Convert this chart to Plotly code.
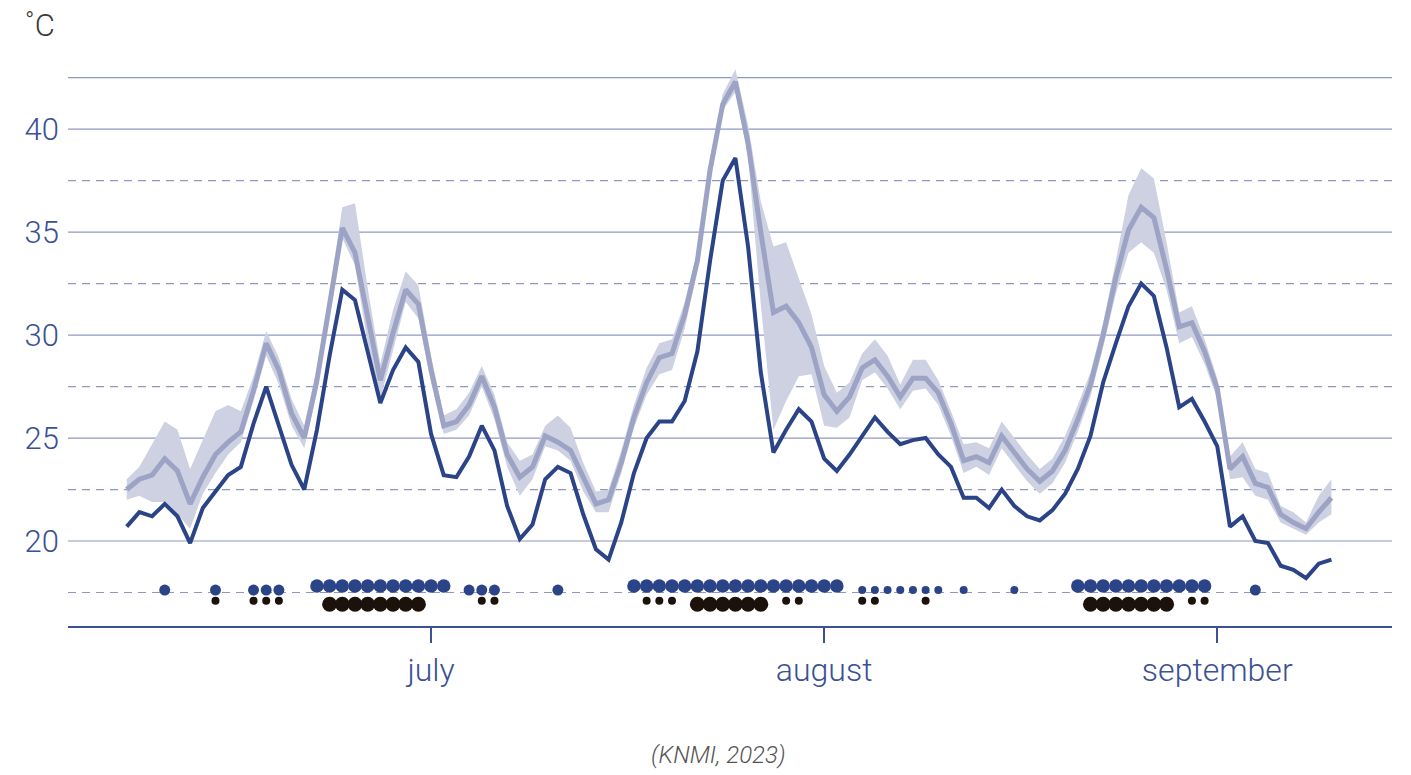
import pandas as pd
import plotly.graph_objects as go

# ---------------- data ----------------
start_date = "2023-06-07"
n_days = 96

# average (light line), band upper / lower, observed (dark line)
mean_temp = [22.5, 23.0, 23.2, 24.0, 23.4, 21.8, 23.1, 24.2, 24.8, 25.3,
             27.3, 29.6, 28.3, 26.2, 25.0, 27.8, 31.5, 35.2, 34.0, 30.8,
             27.8, 30.1, 32.2, 31.5, 28.3, 25.6, 25.8, 26.6, 28.0, 26.5,
             24.2, 23.1, 23.6, 25.1, 24.8, 24.4, 23.1, 21.8, 22.0, 23.8,
             26.0, 27.7, 28.9, 29.1, 31.0, 33.6, 38.0, 41.2, 42.3, 39.3,
             35.0, 31.1, 31.4, 30.6, 29.4, 27.1, 26.3, 27.0, 28.4, 28.8,
             28.0, 27.0, 27.9, 27.9, 27.2, 25.7, 23.9, 24.1, 23.8, 25.1,
             24.3, 23.5, 22.9, 23.4, 24.4, 25.9, 27.6, 30.0, 32.8, 35.1,
             36.2, 35.7, 33.2, 30.4, 30.6, 29.2, 27.4, 23.5, 24.1, 22.8,
             22.6, 21.3, 20.9, 20.6, 21.4, 22.1]
band_upper = [23.0, 23.6, 24.7, 25.8, 25.4, 23.5, 24.9, 26.3, 26.6, 26.3,
              28.0, 30.2, 28.9, 26.9, 25.6, 28.4, 32.1, 36.2, 36.4, 32.3,
              28.6, 31.2, 33.1, 32.4, 29.0, 26.1, 26.4, 27.2, 28.5, 27.1,
              24.8, 23.9, 24.2, 25.6, 26.1, 25.5, 23.8, 22.4, 22.5, 24.4,
              26.6, 28.4, 29.6, 29.8, 31.6, 34.1, 38.5, 41.7, 42.9, 40.2,
              36.5, 34.3, 34.5, 32.7, 31.0, 28.5, 27.2, 27.7, 29.1, 29.8,
              29.0, 27.6, 28.8, 28.8, 27.8, 26.3, 24.7, 24.8, 24.5, 25.8,
              25.0, 24.2, 23.5, 24.0, 25.1, 26.6, 28.2, 30.6, 33.6, 36.8,
              38.1, 37.6, 34.5, 31.1, 31.4, 29.8, 27.9, 24.1, 24.8, 23.5,
              23.3, 21.7, 21.4, 20.9, 22.2, 23.0]
band_lower = [22.0, 22.2, 21.9, 21.9, 21.3, 20.6, 22.3, 23.3, 24.2, 24.8,
              26.8, 29.0, 27.6, 25.6, 24.5, 27.2, 30.8, 34.7, 33.4, 29.6,
              26.9, 29.3, 31.6, 30.8, 27.7, 25.2, 25.4, 26.1, 27.5, 25.9,
              23.6, 22.2, 23.0, 24.6, 24.4, 23.9, 22.4, 21.4, 21.4, 23.3,
              25.5, 27.1, 28.1, 28.3, 30.3, 33.1, 37.4, 40.9, 41.8, 38.7,
              31.5, 25.4, 26.8, 28.0, 28.1, 25.6, 25.5, 26.0, 27.8, 28.2,
              27.4, 26.4, 27.3, 27.4, 26.6, 25.1, 23.3, 23.6, 23.2, 24.5,
              23.7, 22.9, 22.3, 22.8, 23.8, 25.3, 27.0, 29.4, 32.0, 34.0,
              34.5, 34.0, 32.2, 29.6, 29.9, 28.6, 26.9, 23.0, 23.1, 22.2,
              22.0, 20.9, 20.6, 20.3, 20.9, 21.3]
observed = [20.7, 21.4, 21.2, 21.8, 21.2, 19.9, 21.6, 22.4, 23.2, 23.6,
            25.7, 27.5, 25.6, 23.7, 22.5, 25.4, 29.0, 32.2, 31.7, 29.2,
            26.7, 28.3, 29.4, 28.7, 25.2, 23.2, 23.1, 24.1, 25.6, 24.4,
            21.7, 20.1, 20.8, 23.0, 23.6, 23.3, 21.3, 19.6, 19.1, 20.9,
            23.3, 25.0, 25.8, 25.8, 26.8, 29.2, 33.6, 37.5, 38.6, 34.3,
            28.2, 24.3, 25.4, 26.4, 25.8, 24.0, 23.4, 24.2, 25.1, 26.0,
            25.3, 24.7, 24.9, 25.0, 24.2, 23.6, 22.1, 22.1, 21.6, 22.5,
            21.7, 21.2, 21.0, 21.5, 22.3, 23.5, 25.1, 27.7, 29.6, 31.4,
            32.5, 31.9, 29.4, 26.5, 26.9, 25.8, 24.6, 20.7, 21.2, 20.0,
            19.9, 18.8, 18.6, 18.2, 18.9, 19.1]

# dot rows (day dates) by size class
blue_small = ["2023-08-04", "2023-08-05", "2023-08-06", "2023-08-07", "2023-08-08",
              "2023-08-09", "2023-08-10", "2023-08-12", "2023-08-16"]
blue_medium = ["2023-06-10", "2023-06-14", "2023-06-17", "2023-06-18", "2023-06-19",
               "2023-07-04", "2023-07-05", "2023-07-06", "2023-07-11", "2023-09-04"]
blue_large = (list(pd.date_range("2023-06-22", "2023-07-02").strftime("%Y-%m-%d"))
              + list(pd.date_range("2023-07-17", "2023-08-02").strftime("%Y-%m-%d"))
              + list(pd.date_range("2023-08-21", "2023-08-31").strftime("%Y-%m-%d")))
black_small = ["2023-06-14", "2023-06-17", "2023-06-18", "2023-06-19", "2023-07-05",
               "2023-07-06", "2023-07-18", "2023-07-19", "2023-07-20", "2023-07-29",
               "2023-07-30", "2023-08-04", "2023-08-05", "2023-08-09", "2023-08-30",
               "2023-08-31"]
black_large = (list(pd.date_range("2023-06-23", "2023-06-30").strftime("%Y-%m-%d"))
               + list(pd.date_range("2023-07-22", "2023-07-27").strftime("%Y-%m-%d"))
               + list(pd.date_range("2023-08-22", "2023-08-28").strftime("%Y-%m-%d")))

month_ticks = ["2023-07-01", "2023-08-01", "2023-09-01"]
month_labels = ["july", "august", "september"]
y_ticks = [20, 25, 30, 35, 40]
grid_solid = [20, 25, 30, 35, 40, 42.5]
grid_dashed = [17.5, 22.5, 27.5, 32.5, 37.5]

# ---------------- styling ----------------
dates = pd.date_range(start_date, periods=n_days)
DARK = "#2b4387"
LIGHT = "#9ca3c5"
BAND = "#cdd1e2"
GRID = "#9098c0"
AXIS = "#3b5193"
BLACK = "#1c120c"
FONT = "Roboto"

fig = go.Figure()
fig.add_trace(go.Scatter(x=dates, y=band_lower, mode="lines", line=dict(width=0),
                         hoverinfo="skip", showlegend=False))
fig.add_trace(go.Scatter(x=dates, y=band_upper, mode="lines", line=dict(width=0),
                         fill="tonexty", fillcolor=BAND, hoverinfo="skip", showlegend=False))
fig.add_trace(go.Scatter(x=dates, y=mean_temp, mode="lines",
                         line=dict(color=LIGHT, width=5), showlegend=False))
fig.add_trace(go.Scatter(x=dates, y=observed, mode="lines",
                         line=dict(color=DARK, width=4), showlegend=False))

row_y = {"blue_low": 17.62, "blue_high": 17.82, "black_small": 17.10, "black_large": 16.93}
for xs, yv, size, color in [
    (blue_small, row_y["blue_low"], 8, DARK),
    (blue_medium, row_y["blue_low"], 11, DARK),
    (blue_large, row_y["blue_high"], 13.5, DARK),
    (black_small, row_y["black_small"], 8, BLACK),
    (black_large, row_y["black_large"], 15, BLACK),
]:
    fig.add_trace(go.Scatter(x=pd.to_datetime(xs), y=[yv] * len(xs), mode="markers",
                             marker=dict(size=size, color=color, line=dict(width=0)),
                             showlegend=False))

shapes = []
for v in grid_solid:
    shapes.append(dict(type="line", xref="paper", yref="y", x0=0, x1=1, y0=v, y1=v,
                       line=dict(color=GRID, width=1.2), layer="below"))
for v in grid_dashed:
    shapes.append(dict(type="line", xref="paper", yref="y", x0=0, x1=1, y0=v, y1=v,
                       line=dict(color=GRID, width=1.2, dash="8px,6px"), layer="below"))

fig.update_layout(
    width=1411, height=775,
    margin=dict(l=68, r=19, t=57, b=149),
    paper_bgcolor="white", plot_bgcolor="white",
    shapes=shapes,
    font=dict(family=FONT, weight=300),
    xaxis=dict(type="date", range=["2023-06-02 08:53", "2023-09-14 18:40"],
               tickvals=pd.to_datetime(month_ticks), ticktext=month_labels,
               ticks="outside", ticklen=15, tickwidth=1.5, tickcolor=AXIS,
               showline=True, linecolor=AXIS, linewidth=1.5, showgrid=False,
               zeroline=False, tickfont=dict(size=32, color=AXIS, family=FONT, weight=300)),
    yaxis=dict(range=[15.874, 43.5], tickvals=y_ticks, showgrid=False, zeroline=False,
               showline=False, ticks="", ticklabelstandoff=8,
               tickfont=dict(size=31, color=AXIS, family=FONT, weight=300)),
    annotations=[
        dict(text="˚C", xref="paper", yref="paper", x=-0.0083, y=1.0545,
             xanchor="right", yanchor="middle", showarrow=False,
             font=dict(size=31, color="#3a3a3a", family=FONT, weight=300)),
        dict(text="<i>(KNMI, 2023)</i>", xref="paper", yref="paper", x=0.491, y=-0.226,
             xanchor="center", yanchor="middle", showarrow=False,
             font=dict(size=24, color="#555555", family=FONT, weight=300)),
    ],
)

fig.write_html("out.html", config={"displayModeBar": False},
               post_script="document.body.style.margin='0px';document.body.style.overflow='hidden';")
